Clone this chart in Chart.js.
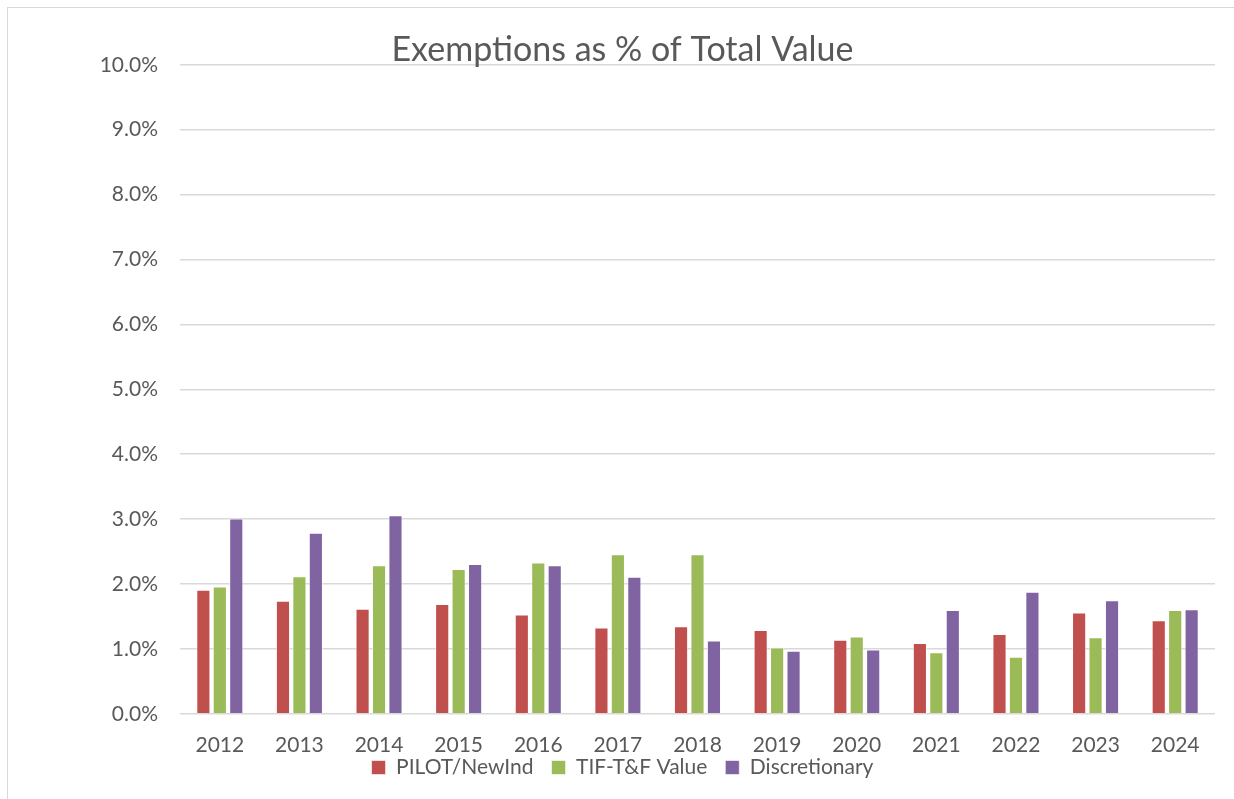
<!DOCTYPE html>
<html>
<head>
<meta charset="utf-8">
<script src="https://cdn.jsdelivr.net/npm/chart.js@4/dist/chart.umd.min.js"></script>
<style>
  html, body { margin: 0; padding: 0; background: #fff; overflow: hidden; }
  #wrap { position: absolute; left: 0; top: 0; width: 1234px; height: 799px; }
  #frame { position: absolute; left: 7px; top: 7px; width: 1240px; height: 800px; border: 1px solid #d9d9d9; box-sizing: border-box; }
</style>
</head>
<body>
<div id="wrap">
  <div id="frame"></div>
  <canvas id="chart" width="1234" height="799"></canvas>
</div>
<script>
  // Dane
  const years = ["2012", "2013", "2014", "2015", "2016", "2017", "2018", "2019", "2020", "2021", "2022", "2023", "2024"];
  const pilotNewInd = [1.91, 1.74, 1.62, 1.69, 1.53, 1.33, 1.35, 1.29, 1.14, 1.09, 1.23, 1.56, 1.44];
  const tifValue = [1.96, 2.12, 2.29, 2.23, 2.33, 2.46, 2.46, 1.02, 1.19, 0.95, 0.88, 1.18, 1.60];
  const discretionary = [3.01, 2.79, 3.06, 2.31, 2.29, 2.11, 1.13, 0.97, 0.99, 1.60, 1.88, 1.75, 1.61];

  const textColor = "#595959";
  const fontFamily = "Lato, 'Liberation Sans', sans-serif";

  const ds = (label, data, color) => ({
    label,
    data,
    backgroundColor: color,
    borderColor: "rgba(255,255,255,0.6)",
    borderWidth: 1,
    barPercentage: 0.86,
    categoryPercentage: 0.62
  });

  // Legenda ciasno pod etykietami osi X, jak w oryginale
  const legendShift = {
    id: "legendShift",
    afterLayout(chart) {
      chart.legend.top -= 30;
      chart.legend.bottom -= 30;
    }
  };

  new Chart(document.getElementById("chart").getContext("2d"), {
    type: "bar",
    data: {
      labels: years,
      datasets: [
        ds("PILOT/NewInd", pilotNewInd, "#C0504D"),
        ds("TIF-T&F Value", tifValue, "#9BBB59"),
        ds("Discretionary", discretionary, "#8064A2")
      ]
    },
    plugins: [legendShift],
    options: {
      responsive: false,
      animation: false,
      layout: { padding: { left: 30, right: 19, top: 0, bottom: -19 } },
      plugins: {
        title: {
          display: true,
          text: "Exemptions as % of Total Value",
          color: textColor,
          font: { family: fontFamily, size: 34, weight: "normal" },
          padding: { top: 30, bottom: -6 }
        },
        legend: {
          position: "bottom",
          labels: {
            color: textColor,
            font: { family: fontFamily, size: 21 },
            boxWidth: 14,
            boxHeight: 14,
            padding: 18
          }
        },
        tooltip: { enabled: false }
      },
      scales: {
        x: {
          grid: { display: false },
          border: { display: false },
          ticks: { color: textColor, font: { family: fontFamily, size: 21 }, padding: 11 }
        },
        y: {
          min: 0,
          max: 10,
          afterFit: scale => { scale.width = 150; },
          grid: { color: "#d9d9d9", lineWidth: 1.5, drawTicks: false },
          border: { display: false },
          ticks: {
            stepSize: 1,
            color: textColor,
            font: { family: fontFamily, size: 21 },
            padding: 22,
            callback: v => v.toFixed(1) + "%"
          }
        }
      }
    }
  });
</script>
</body>
</html>
